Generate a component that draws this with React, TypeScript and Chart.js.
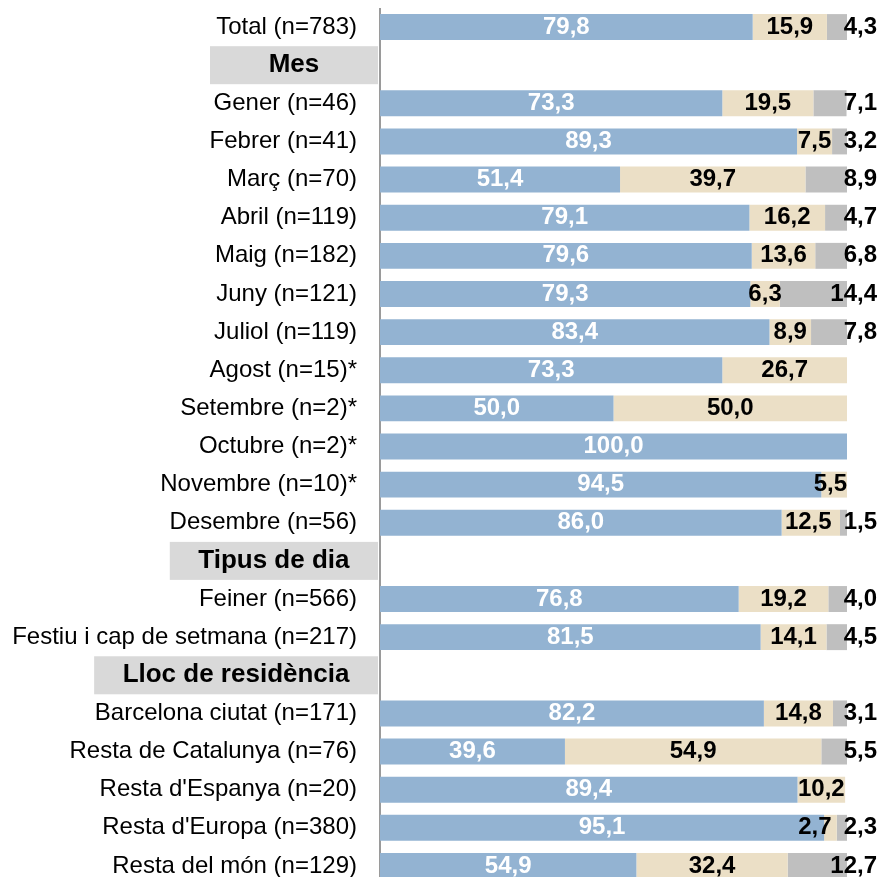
import React, { useEffect, useRef } from 'react';
import { Chart, registerables } from 'chart.js';

Chart.register(...registerables);

const categories: string[] = [
  'Total (n=783)',
  'Mes',
  'Gener (n=46)',
  'Febrer (n=41)',
  'Març (n=70)',
  'Abril (n=119)',
  'Maig (n=182)',
  'Juny (n=121)',
  'Juliol (n=119)',
  'Agost (n=15)*',
  'Setembre (n=2)*',
  'Octubre (n=2)*',
  'Novembre (n=10)*',
  'Desembre (n=56)',
  'Tipus de dia',
  'Feiner (n=566)',
  'Festiu i cap de setmana (n=217)',
  'Lloc de residència',
  'Barcelona ciutat (n=171)',
  'Resta de Catalunya (n=76)',
  "Resta d'Espanya (n=20)",
  "Resta d'Europa (n=380)",
  'Resta del món (n=129)',
];

const headerRows: string[] = ['Mes', 'Tipus de dia', 'Lloc de residència'];

const blueValues: (number | null)[] = [
  79.8, null, 73.3, 89.3, 51.4, 79.1, 79.6, 79.3, 83.4, 73.3, 50.0, 100.0, 94.5, 86.0,
  null, 76.8, 81.5, null, 82.2, 39.6, 89.4, 95.1, 54.9,
];
const beigeValues: (number | null)[] = [
  15.9, null, 19.5, 7.5, 39.7, 16.2, 13.6, 6.3, 8.9, 26.7, 50.0, null, 5.5, 12.5,
  null, 19.2, 14.1, null, 14.8, 54.9, 10.2, 2.7, 32.4,
];
const grayValues: (number | null)[] = [
  4.3, null, 7.1, 3.2, 8.9, 4.7, 6.8, 14.4, 7.8, null, null, null, null, 1.5,
  null, 4.0, 4.5, null, 3.1, 5.5, null, 2.3, 12.7,
];

const FONT = '"Liberation Sans", Arial, Helvetica, sans-serif';
const BLUE = '#93b3d2';
const BEIGE = '#ebdfc6';
const GRAY = '#bfbfbf';

const fmt = (v: number) => v.toFixed(1).replace('.', ',');

const headerPlugin = {
  id: 'headerBoxes',
  afterDraw(chart: any) {
    const ctx = chart.ctx;
    const yScale = chart.scales.y;
    const right = chart.chartArea.left - 2;
    ctx.save();
    ctx.font = `bold 26px ${FONT}`;
    categories.forEach((c, i) => {
      if (!headerRows.includes(c)) return;
      const cy = yScale.getPixelForValue(i);
      const tw = ctx.measureText(c).width;
      const boxW = Math.max(tw + 57, 168);
      ctx.fillStyle = '#d9d9d9';
      ctx.fillRect(right - boxW, cy - 19, boxW, 38);
      ctx.fillStyle = '#000000';
      ctx.textAlign = 'center';
      ctx.textBaseline = 'middle';
      ctx.fillText(c, right - boxW / 2, cy);
    });
    ctx.restore();
  },
};

const labelPlugin = {
  id: 'barLabels',
  afterDatasetsDraw(chart: any) {
    const ctx = chart.ctx;
    const area = chart.chartArea;
    ctx.save();
    ctx.font = `bold 24px ${FONT}`;
    ctx.textBaseline = 'middle';
    const grayDs = chart.data.datasets[2];
    chart.data.datasets.forEach((ds: any, di: number) => {
      const meta = chart.getDatasetMeta(di);
      meta.data.forEach((bar: any, i: number) => {
        const v = ds.data[i];
        if (v == null) return;
        const p = bar.getProps(['x', 'base', 'y'], true);
        const text = fmt(v);
        const w = ctx.measureText(text).width;
        if (di === 0) {
          ctx.fillStyle = '#ffffff';
          ctx.textAlign = 'center';
          ctx.fillText(text, (p.x + p.base) / 2, p.y);
        } else if (di === 1) {
          let maxRight = area.right;
          const gv = grayDs.data[i];
          if (gv != null) {
            const gLeft = chart.width - ctx.measureText(fmt(gv)).width;
            maxRight = Math.min(maxRight, gLeft - 12);
          }
          const cx = Math.min((p.x + p.base) / 2, maxRight - w / 2);
          ctx.fillStyle = '#000000';
          ctx.textAlign = 'center';
          ctx.fillText(text, cx, p.y);
        } else {
          ctx.fillStyle = '#000000';
          ctx.textAlign = 'right';
          ctx.fillText(text, chart.width, p.y);
        }
      });
    });
    ctx.restore();
  },
};

export default function App() {
  const ref = useRef<HTMLCanvasElement | null>(null);

  useEffect(() => {
    if (!ref.current) return;
    const chart = new Chart(ref.current, {
      type: 'bar',
      data: {
        labels: categories,
        datasets: [
          { label: 'A', data: blueValues, backgroundColor: BLUE, barPercentage: 0.68, categoryPercentage: 1 },
          { label: 'B', data: beigeValues, backgroundColor: BEIGE, barPercentage: 0.68, categoryPercentage: 1 },
          { label: 'C', data: grayValues, backgroundColor: GRAY, barPercentage: 0.68, categoryPercentage: 1 },
        ],
      } as any,
      options: {
        indexAxis: 'y',
        responsive: false,
        animation: false,
        layout: { padding: { left: 0, right: 30, top: 0, bottom: 0 } },
        plugins: {
          legend: { display: false },
          tooltip: { enabled: false },
        },
        scales: {
          x: {
            stacked: true,
            min: 0,
            max: 100,
            display: false,
          },
          y: {
            stacked: true,
            grid: { display: false, drawTicks: false },
            border: { display: true, color: '#9a9a9a', width: 2 },
            ticks: {
              padding: 23,
              color: '#000000',
              font: { family: FONT, size: 24 },
              callback: (_v: any, i: number) => (headerRows.includes(categories[i]) ? '' : categories[i]),
            },
            afterFit: (scale: any) => {
              scale.width = 372;
              scale.paddingTop = 0;
              scale.paddingBottom = 0;
            },
          },
        },
      } as any,
      plugins: [headerPlugin, labelPlugin],
    });
    return () => chart.destroy();
  }, []);

  return (
    <div style={{ position: 'fixed', top: 8, left: 8, width: 869, height: 869, overflow: 'hidden' }}>
      <canvas ref={ref} width={869} height={877} style={{ width: 869, height: 877, display: 'block' }} />
    </div>
  );
}
